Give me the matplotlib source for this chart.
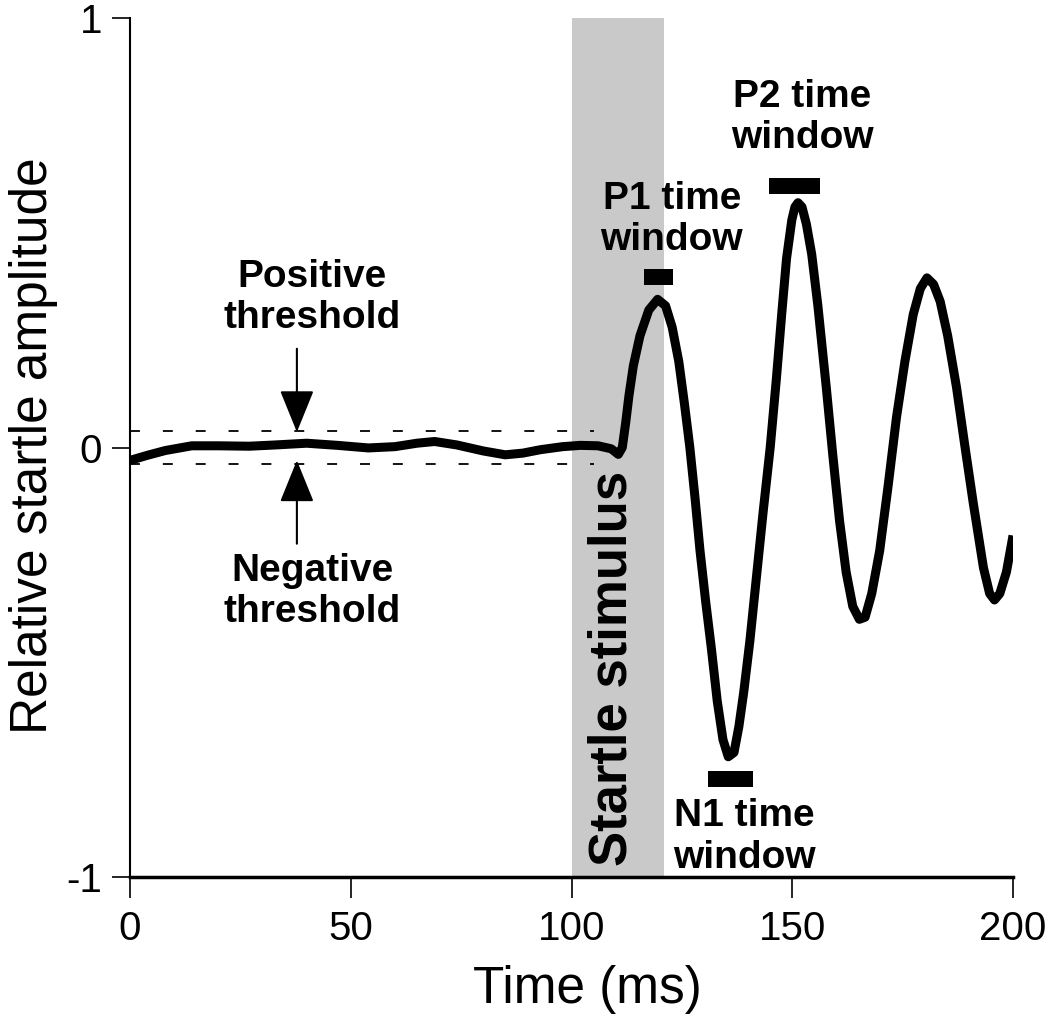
import matplotlib
matplotlib.use('Agg')
import matplotlib.pyplot as plt

plt.rcParams['font.family'] = ['Liberation Sans', 'DejaVu Sans']

# startle response trace (time in ms, relative amplitude)
time_ms = [0, 4, 8, 14, 20, 27, 33, 40, 47, 54, 60, 65, 69, 74, 80, 85, 89, 93,
           98, 102, 106, 109, 110.6, 111.5, 112.3, 113.0, 114.0, 115.5, 117.5,
           119.5, 121.3, 122.8, 124.3, 125.6, 126.8, 128.0, 129.1, 130.4, 131.7,
           133.0, 134.3, 135.5, 136.8, 137.9, 139.0, 140.4, 141.8, 143.4, 145.0,
           146.4, 147.6, 148.7, 149.9, 150.6, 151.3, 152.2, 153.2, 154.4, 155.8,
           157.7, 159.2, 160.7, 162.2, 163.7, 165.2, 166.5, 168.0, 169.8, 171.7,
           173.6, 175.5, 177.4, 179.0, 180.5, 182.0, 183.5, 185.2, 187.2, 189.0,
           191.0, 193.3, 194.7, 195.8, 197.0, 198.5, 200]
amplitude = [-0.03, -0.018, -0.007, 0.004, 0.004, 0.003, 0.006, 0.01, 0.005,
             -0.001, 0.002, 0.010, 0.014, 0.006, -0.008, -0.017, -0.013, -0.005,
             0.002, 0.005, 0.004, -0.003, -0.016, 0.0, 0.06, 0.12, 0.19, 0.26,
             0.32, 0.345, 0.33, 0.28, 0.20, 0.10, 0.0, -0.12, -0.24, -0.36,
             -0.47, -0.59, -0.68, -0.72, -0.71, -0.65, -0.57, -0.45, -0.31,
             -0.15, 0.0, 0.16, 0.31, 0.44, 0.53, 0.56, 0.57, 0.56, 0.52, 0.45,
             0.33, 0.14, -0.02, -0.17, -0.29, -0.37, -0.40, -0.395, -0.34, -0.24,
             -0.09, 0.07, 0.20, 0.31, 0.37, 0.395, 0.38, 0.34, 0.26, 0.14, 0.01,
             -0.13, -0.28, -0.34, -0.355, -0.34, -0.29, -0.205]

stimulus = (100, 121)
threshold = 0.039
threshold_end = 105

# time windows: (start, end, level)
windows = {'P1': (116.4, 123.0, 0.396),
           'N1': (131.0, 141.0, -0.772),
           'P2': (144.8, 156.3, 0.609)}

fig = plt.figure(figsize=(10.5, 10.23), dpi=100)
ax = fig.add_axes([0.1238, 0.1427, 0.841, 0.8397])

ax.axvspan(stimulus[0], stimulus[1], color='#c9c9c9', lw=0, zorder=0)
ax.text(109.2, -0.515, 'Startle stimulus', rotation=90, ha='center', va='center',
        fontsize=38, fontweight='bold', zorder=3)

# thresholds
for lev in (threshold, -threshold):
    ax.plot([0, threshold_end], [lev, lev], color='k', lw=1.3,
            linestyle=(0, (5.5, 12.7)), zorder=2)

ax.plot(time_ms, amplitude, color='k', lw=6.5, solid_joinstyle='round',
        solid_capstyle='butt', zorder=4)

for name, (t0, t1, lev) in windows.items():
    ax.plot([t0, t1], [lev, lev], color='k', lw=11.5, solid_capstyle='butt', zorder=4)

bold = dict(fontsize=28, fontweight='bold', ha='center', va='center', linespacing=1.2)
ax.text(152.3, 0.768, 'P2 time\nwindow', **bold)
ax.text(122.7, 0.531, 'P1 time\nwindow', **bold)
ax.text(139.1, -0.907, 'N1 time\nwindow', **bold)
ax.text(41.3, 0.349, 'Positive\nthreshold', **bold)
ax.text(41.3, -0.335, 'Negative\nthreshold', **bold)

arrow = dict(arrowstyle='-|>,head_length=2.66,head_width=1.08', mutation_scale=10,
             lw=1.5, color='k', shrinkA=0, shrinkB=0)
ax.annotate('', xy=(37.8, 0.036), xytext=(37.8, 0.23), arrowprops=arrow)
ax.annotate('', xy=(37.8, -0.03), xytext=(37.8, -0.224), arrowprops=arrow)

ax.set_xlim(0, 200)
ax.set_ylim(-1, 1)
ax.set_xticks([0, 50, 100, 150, 200])
ax.set_yticks([-1, 0, 1])
ax.set_yticklabels(['-1', '0', '1'])
ax.spines['top'].set_visible(False)
ax.spines['right'].set_visible(False)
ax.spines['left'].set_linewidth(1.5)
ax.spines['bottom'].set_linewidth(2.5)
ax.tick_params(axis='x', length=15, width=1.2, pad=9, labelsize=29)
ax.tick_params(axis='y', length=13, width=1.2, pad=7, labelsize=29)

ax.set_xlabel('Time (ms)', fontsize=37)
ax.xaxis.set_label_coords(0.518, -0.102)
ax.set_ylabel('Relative startle amplitude', fontsize=37)
ax.yaxis.set_label_coords(-0.082, 0.502)

fig.savefig('out.png', dpi=100)
